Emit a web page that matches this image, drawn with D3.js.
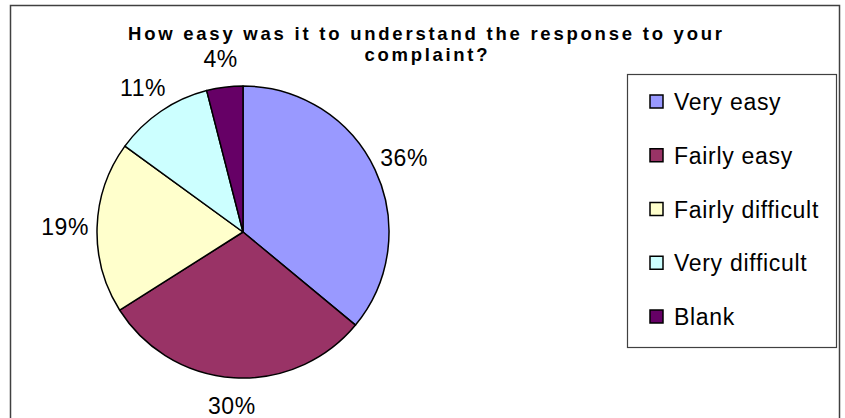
<!DOCTYPE html>
<html>
<head>
<meta charset="utf-8">
<script src="https://cdn.jsdelivr.net/npm/d3@7"></script>
<style>
  html, body { margin: 0; padding: 0; background: #fff; }
  svg { display: block; }
  text { font-family: "Liberation Sans", Arial, sans-serif; fill: #000; }
</style>
</head>
<body>
<svg id="chart" width="845" height="418"></svg>
<script>
// Survey answers and their shares (percent)
const categories = ["Very easy", "Fairly easy", "Fairly difficult", "Very difficult", "Blank"];
const values = [36, 30, 19, 11, 4];
const colors = ["#9999FF", "#993366", "#FFFFCC", "#CCFFFF", "#660066"];
const titleLines = ["How easy was it to understand the response to your", "complaint?"];

const svg = d3.select("#chart");

// Outer chart frame
svg.append("rect")
  .attr("x", 10.5).attr("y", 5.5)
  .attr("width", 829).attr("height", 430)
  .attr("fill", "#fff").attr("stroke", "#404040").attr("stroke-width", 1.5);

// Title (two lines, widely tracked bold text)
const title = svg.append("g")
  .attr("font-size", 18.5).attr("font-weight", "bold")
  .attr("text-anchor", "middle");
title.append("text")
  .attr("x", 425).attr("y", 40)
  .attr("textLength", 594).attr("lengthAdjust", "spacing")
  .text(titleLines[0]);
title.append("text")
  .attr("x", 426).attr("y", 61)
  .attr("textLength", 123).attr("lengthAdjust", "spacing")
  .text(titleLines[1]);

// Pie, clockwise from 12 o'clock
const cx = 243, cy = 232, r = 146;
const pie = d3.pie().sort(null).value(d => d)
  .startAngle(0).endAngle(2 * Math.PI);
const arcs = pie(values);
const arc = d3.arc().innerRadius(0).outerRadius(r);

const g = svg.append("g").attr("transform", `translate(${cx},${cy})`);
g.selectAll("path")
  .data(arcs)
  .join("path")
  .attr("d", arc)
  .attr("fill", (d, i) => colors[i])
  .attr("stroke", "#000")
  .attr("stroke-width", 1.5)
  .attr("stroke-linejoin", "round");

// Percentage labels centred on a slightly flattened ring outside the rim
const unitArc = d3.arc().innerRadius(1).outerRadius(1);
const labelRx = 178, labelRy = 174;
g.selectAll("text.pct")
  .data(arcs)
  .join("text")
  .attr("class", "pct")
  .attr("font-size", 23)
  .attr("letter-spacing", 0.5)
  .attr("text-anchor", "middle")
  .attr("dominant-baseline", "central")
  .attr("transform", d => {
    const [ux, uy] = unitArc.centroid(d);
    return `translate(${ux * labelRx},${uy * labelRy})`;
  })
  .text(d => d.value + "%");

// Legend
const legend = svg.append("g");
legend.append("rect")
  .attr("x", 627.5).attr("y", 74.5)
  .attr("width", 209).attr("height", 273)
  .attr("fill", "#fff").attr("stroke", "#404040").attr("stroke-width", 1.2);

const ly = d3.scalePoint().domain(categories).range([102, 317]);
const items = legend.selectAll("g.item")
  .data(categories)
  .join("g")
  .attr("class", "item")
  .attr("transform", d => `translate(0,${ly(d)})`);
items.append("rect")
  .attr("x", 650).attr("y", -7)
  .attr("width", 13).attr("height", 13)
  .attr("fill", (d, i) => colors[i])
  .attr("stroke", "#000").attr("stroke-width", 1.5);
items.append("text")
  .attr("x", 674).attr("y", 8)
  .attr("font-size", 23)
  .attr("letter-spacing", 0.7)
  .text(d => d);
</script>
</body>
</html>
